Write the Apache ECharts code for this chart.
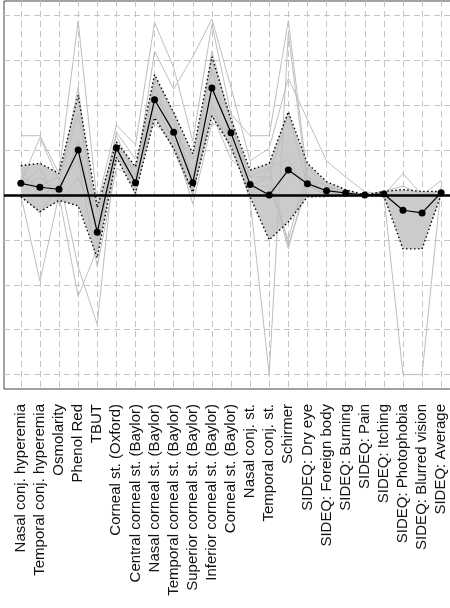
<!DOCTYPE html>
<html>
<head>
<meta charset="utf-8">
<script src="https://cdn.jsdelivr.net/npm/echarts@6.0.0/dist/echarts.min.js"></script>
<style>
  html, body { margin: 0; padding: 0; background: #fff; }
  #chart { width: 450px; height: 608px; }
</style>
</head>
<body>
<div id="chart"></div>
<script>
// category names along the x axis
const categories = [
  'Nasal conj. hyperemia', 'Temporal conj. hyperemia', 'Osmolarity', 'Phenol Red', 'TBUT',
  'Corneal st. (Oxford)', 'Central corneal st. (Baylor)', 'Nasal corneal st. (Baylor)',
  'Temporal corneal st. (Baylor)', 'Superior corneal st. (Baylor)', 'Inferior corneal st. (Baylor)',
  'Corneal st. (Baylor)', 'Nasal conj. st.', 'Temporal conj. st.', 'Schirmer',
  'SIDEQ: Dry eye', 'SIDEQ: Foreign body', 'SIDEQ: Burning', 'SIDEQ: Pain', 'SIDEQ: Itching',
  'SIDEQ: Photophobia', 'SIDEQ: Blurred vision', 'SIDEQ: Average'
]

// mean correlation (black line with dots)
const meanValues = [0.065, 0.043, 0.032, 0.25, -0.207, 0.261, 0.068, 0.53, 0.35, 0.068, 0.596, 0.346,
  0.059, 0.0, 0.139, 0.063, 0.024, 0.011, 0.0, 0.006, -0.085, -0.1, 0.013]
// confidence band (grey area, dotted borders)
const upperCI = [0.163, 0.176, 0.12, 0.556, -0.07, 0.296, 0.157, 0.67, 0.46, 0.23, 0.77, 0.42,
  0.139, 0.176, 0.463, 0.176, 0.074, 0.03, 0.0, 0.02, 0.03, 0.02, 0.02]
const lowerCI = [-0.01, -0.093, -0.03, -0.06, -0.35, 0.21, 0.01, 0.43, 0.26, 0.015, 0.44, 0.27,
  -0.01, -0.25, -0.15, -0.01, -0.008, -0.005, -0.005, -0.005, -0.30, -0.30, 0.005]

// individual correlations (thin grey lines)
const lineA = [0.33, 0.33, 0.12, 0.97, -0.05, 0.39, 0.28, 0.96, 0.71, 0.30, 0.95, 0.45, 0.33, 0.33, 0.97, 0.10, 0.05, 0.02, 0.00, 0.00, 0.12, 0.00, 0.08]
const lineB = [0.07, 0.32, 0.08, 0.45, -0.10, 0.33, 0.10, 0.80, 0.59, 0.77, 0.98, 0.60, 0.19, 0.26, 0.65, 0.42, 0.19, 0.10, 0.02, 0.00, 0.00, 0.00, 0.00]
const lineC = [0.00, -0.48, 0.00, 0.30, -0.20, 0.25, 0.05, 0.65, 0.45, 0.05, 0.80, 0.40, 0.10, 0.10, 0.46, 0.05, 0.00, 0.00, 0.00, 0.02, 0.05, 0.00, 0.02]
const lineD = [0.05, 0.10, 0.00, -0.565, -0.30, 0.20, 0.15, 0.60, 0.35, 0.20, 0.70, 0.30, -0.03, -1.00, 0.90, 0.05, 0.02, 0.00, 0.00, 0.00, -1.00, -1.00, 0.05]
const lineE = [0.10, 0.05, 0.10, -0.40, -0.72, 0.30, 0.00, 0.50, 0.30, 0.00, 0.50, 0.25, 0.05, 0.10, -0.30, 0.10, 0.00, 0.00, 0.00, 0.00, 0.00, 0.00, 0.00]
const lineF = [0.15, 0.00, 0.05, 0.20, -0.40, 0.15, 0.10, 0.45, 0.25, 0.00, 0.45, 0.20, 0.10, 0.15, -0.28, 0.05, 0.00, 0.00, 0.00, 0.00, 0.00, 0.00, 0.00]
const lineG = [0.05, 0.15, -0.05, 0.10, -0.15, 0.35, 0.20, 0.40, 0.30, -0.05, 0.40, 0.35, 0.05, 0.05, -0.25, 0.15, 0.05, 0.00, 0.00, 0.00, 0.00, 0.00, 0.00]
const lineH = [0.00, -0.10, 0.05, 0.60, -0.25, 0.25, 0.05, 0.55, 0.40, 0.10, 0.60, 0.45, 0.00, 0.15, 0.20, 0.00, 0.00, 0.00, 0.00, 0.00, 0.00, 0.00, 0.00]

// gridline positions
const yTicks = [-1, -0.75, -0.5, -0.25, 0, 0.25, 0.5, 0.75, 1]
const xTicks = categories.map((c, i) => i + 1)

const toPoints = arr => arr.map((v, i) => [i + 1, v])

const greyLine = arr => ({
  type: 'line',
  data: toPoints(arr),
  symbol: 'none',
  silent: true,
  z: 2,
  lineStyle: { color: '#bebebe', width: 1 }
})

const dottedLine = arr => ({
  type: 'line',
  data: toPoints(arr),
  symbol: 'none',
  silent: true,
  z: 3,
  lineStyle: { color: '#000', width: 1.4, type: [1.5, 2.5] }
})

const chart = echarts.init(document.getElementById('chart'))

chart.setOption({
  animation: false,
  grid: {
    left: 4,
    top: 1,
    width: 454,
    height: 388,
    show: true,
    borderColor: '#444',
    borderWidth: 1,
    outerBoundsMode: 'none'
  },
  xAxis: {
    type: 'value',
    min: 0.12,
    max: 23.88,
    axisLine: { show: false },
    axisTick: { show: false, customValues: xTicks },
    splitLine: { show: true, lineStyle: { color: '#c4c4c4', width: 1, type: [6, 4] } },
    axisLabel: {
      customValues: xTicks,
      rotate: 90,
      margin: 15,
      fontSize: 15,
      fontFamily: 'Liberation Sans, Arial, sans-serif',
      color: '#111',
      formatter: v => categories[Math.round(v) - 1]
    }
  },
  yAxis: {
    type: 'value',
    min: -1.08,
    max: 1.08,
    axisLine: { show: false },
    axisTick: { show: false, customValues: yTicks },
    axisLabel: { show: false, customValues: yTicks },
    splitLine: { show: true, lineStyle: { color: '#c4c4c4', width: 1, type: [6, 4] } }
  },
  series: [
    {
      // confidence band polygon
      type: 'custom',
      silent: true,
      z: 1,
      data: toPoints(meanValues),
      renderItem: (params, api) => {
        if (params.dataIndex !== 0) return null
        const up = upperCI.map((v, i) => api.coord([i + 1, v]))
        const lo = lowerCI.map((v, i) => api.coord([i + 1, v])).reverse()
        return {
          type: 'polygon',
          shape: { points: up.concat(lo) },
          style: { fill: '#cbcbcb' }
        }
      }
    },
    greyLine(lineA), greyLine(lineB), greyLine(lineC), greyLine(lineD),
    greyLine(lineE), greyLine(lineF), greyLine(lineG), greyLine(lineH),
    dottedLine(upperCI),
    dottedLine(lowerCI),
    {
      type: 'line',
      data: toPoints(meanValues),
      symbol: 'circle',
      symbolSize: 7,
      z: 10,
      itemStyle: { color: '#000' },
      lineStyle: { color: '#000', width: 1.2 },
      markLine: {
        silent: true,
        symbol: 'none',
        label: { show: false },
        lineStyle: { color: '#000', width: 2.5, type: 'solid' },
        data: [{ yAxis: 0 }]
      }
    }
  ]
})
</script>
</body>
</html>
